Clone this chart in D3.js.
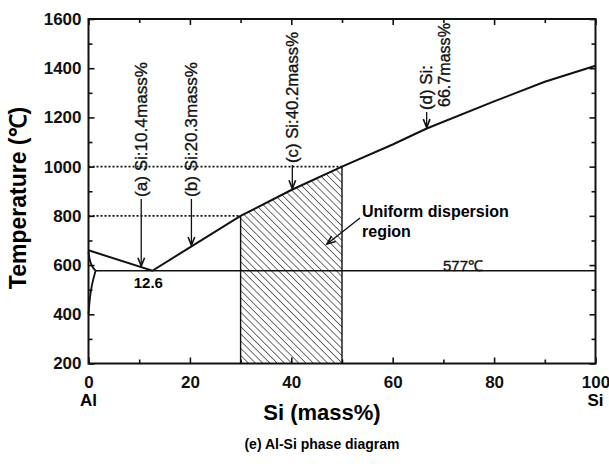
<!DOCTYPE html>
<html><head><meta charset="utf-8">
<script src="https://cdn.jsdelivr.net/npm/d3@7"></script>
<style>
body{margin:0;background:#fff;}
svg{display:block;font-family:"Liberation Sans",Arial,Helvetica,sans-serif;}
</style></head>
<body><svg id="c" width="609" height="466"></svg>
<script>
// ---- data ----
const xTicksMajor = [0, 20, 40, 60, 80, 100];
const xTicksMinor = [10, 30, 50, 70, 90];
const yTicksMajor = [200, 400, 600, 800, 1000, 1200, 1400, 1600];
const yTicksMinor = [300, 500, 700, 900, 1100, 1300, 1500];
const liquidusSi = [0, 12.6, 20, 30, 40, 50, 60, 66.7, 80, 90, 100];
const liquidusT  = [660, 577, 672, 800, 905, 1000, 1090, 1155, 1265, 1345, 1410];
const solidusSi = [0, 0.25, 0.8, 1.4];
const solidusT  = [655, 615, 590, 577];
const solvusSi = [1.4, 0.9, 0.45, 0.15, 0];
const solvusT  = [577, 540, 498, 440, 400];
const eutecticT = 577;
const eutecticSi = 12.6;
const regionSi = [30, 50];
const dottedT = [800, 1000];
const dottedSiEnd = [30, 50];
const arrowSi = [10.4, 20.3, 40.2, 66.7];
const arrowLabels = [["(a) Si:10.4mass%"], ["(b) Si:20.3mass%"], ["(c) Si:40.2mass%"], ["(d) Si:", "66.7mass%"]];

// ---- layout ----
const svg = d3.select("#c");
const L = 88.5, R = 595.5, T = 19, B = 363.5;
const x = d3.scaleLinear().domain([0, 100]).range([L, R]);
const y = d3.scaleLinear().domain([200, 1600]).range([B, T]);
const interpT = si => {
  for (let i = 0; i < liquidusSi.length - 1; i++) {
    if (si >= liquidusSi[i] && si <= liquidusSi[i + 1]) {
      const f = (si - liquidusSi[i]) / (liquidusSi[i + 1] - liquidusSi[i]);
      return liquidusT[i] + f * (liquidusT[i + 1] - liquidusT[i]);
    }
  }
  return liquidusT[liquidusT.length - 1];
};

// hatch pattern
const defs = svg.append("defs");
const pat = defs.append("pattern").attr("id", "hatch").attr("patternUnits", "userSpaceOnUse")
  .attr("width", 5.1).attr("height", 10).attr("patternTransform", "rotate(-45)");
pat.append("line").attr("x1", 0).attr("y1", 0).attr("x2", 0).attr("y2", 10)
  .attr("stroke", "#222").attr("stroke-width", 1.3);

// hatched region
const regPts = [[regionSi[0], 200]];
regPts.push([regionSi[0], interpT(regionSi[0])]);
liquidusSi.forEach((s, i) => { if (s > regionSi[0] && s < regionSi[1]) regPts.push([s, liquidusT[i]]); });
regPts.push([regionSi[1], interpT(regionSi[1])]);
regPts.push([regionSi[1], 200]);
svg.append("path").attr("d", d3.line().x(d => x(d[0])).y(d => y(d[1]))(regPts) + "Z")
  .attr("fill", "url(#hatch)").attr("stroke", "none");
regionSi.forEach(s => svg.append("line").attr("x1", x(s)).attr("x2", x(s)).attr("y1", y(200)).attr("y2", y(interpT(s)))
  .attr("stroke", "#111").attr("stroke-width", 1.4));

// dotted lines
dottedT.forEach((t, i) => svg.append("line").attr("x1", x(0)).attr("x2", x(dottedSiEnd[i])).attr("y1", y(t)).attr("y2", y(t))
  .attr("stroke", "#111").attr("stroke-width", 1.6).attr("stroke-dasharray", "2,2"));

// eutectic line
svg.append("line").attr("x1", x(solidusSi[solidusSi.length - 1])).attr("x2", x(100)).attr("y1", y(eutecticT)).attr("y2", y(eutecticT))
  .attr("stroke", "#111").attr("stroke-width", 1.6);

// curves
const ln = d3.line().x(d => x(d[0])).y(d => y(d[1]));
svg.append("path").attr("d", ln(liquidusSi.map((s, i) => [s, liquidusT[i]])))
  .attr("fill", "none").attr("stroke", "#111").attr("stroke-width", 2);
svg.append("path").attr("d", d3.line().x(d => x(d[0])).y(d => y(d[1])).curve(d3.curveBasis)(solidusSi.map((s, i) => [s, solidusT[i]])))
  .attr("fill", "none").attr("stroke", "#111").attr("stroke-width", 1.8);
svg.append("path").attr("d", d3.line().x(d => x(d[0])).y(d => y(d[1])).curve(d3.curveBasis)(solvusSi.map((s, i) => [s, solvusT[i]])))
  .attr("fill", "none").attr("stroke", "#111").attr("stroke-width", 1.8);

// axes (inward ticks on all sides)
function axisGroup(gen, tx, ty) { return svg.append("g").attr("transform", `translate(${tx},${ty})`).call(gen); }
const styleAxis = g => { g.select(".domain").remove(); g.selectAll("line").attr("stroke", "#111").attr("stroke-width", 1.6); };
axisGroup(d3.axisBottom(x).tickValues(xTicksMinor).tickSize(-4).tickFormat(""), 0, B).call(styleAxis);
axisGroup(d3.axisTop(x).tickValues(xTicksMinor).tickSize(-4).tickFormat(""), 0, T).call(styleAxis);
axisGroup(d3.axisTop(x).tickValues(xTicksMajor).tickSize(-6).tickFormat(""), 0, T).call(styleAxis);
axisGroup(d3.axisLeft(y).tickValues(yTicksMinor).tickSize(-4).tickFormat(""), L, 0).call(styleAxis);
axisGroup(d3.axisRight(y).tickValues(yTicksMinor).tickSize(-4).tickFormat(""), R, 0).call(styleAxis);
axisGroup(d3.axisRight(y).tickValues(yTicksMajor).tickSize(-6).tickFormat(""), R, 0).call(styleAxis);
const xb = axisGroup(d3.axisBottom(x).tickValues(xTicksMajor).tickSize(-6).tickPadding(12).tickFormat(d3.format("d")), 0, B).call(styleAxis);
xb.selectAll("text").attr("font-size", 17).attr("font-weight", "bold").attr("fill", "#111").attr("font-family", "Liberation Sans, Arial, sans-serif");
const yl = axisGroup(d3.axisLeft(y).tickValues(yTicksMajor).tickSize(-6).tickPadding(7).tickFormat(d3.format("d")), L, 0).call(styleAxis);
yl.selectAll("text").attr("font-size", 17).attr("font-weight", "bold").attr("fill", "#111").attr("font-family", "Liberation Sans, Arial, sans-serif");

// frame
svg.append("rect").attr("x", L).attr("y", T).attr("width", R - L).attr("height", B - T)
  .attr("fill", "none").attr("stroke", "#111").attr("stroke-width", 2);

// element labels
svg.append("text").attr("x", x(0)).attr("y", 406).attr("text-anchor", "middle").attr("font-size", 17).attr("font-weight", "bold").text("Al");
svg.append("text").attr("x", x(100)).attr("y", 406).attr("text-anchor", "middle").attr("font-size", 17).attr("font-weight", "bold").text("Si");

// axis titles
svg.append("text").attr("x", (L + R) / 2 - 20).attr("y", 420).attr("text-anchor", "middle").attr("font-size", 22).attr("font-weight", "bold").text("Si (mass%)");
svg.append("text").attr("transform", "translate(26,198) rotate(-90)").attr("text-anchor", "middle").attr("font-size", 23).attr("font-weight", "bold").text("Temperature (℃)");
svg.append("text").attr("x", (L + R) / 2 - 20).attr("y", 449).attr("text-anchor", "middle").attr("font-size", 14).attr("font-weight", "bold").text("(e) Al-Si phase diagram");

// annotations
const heavy = s => s.attr("stroke", "#111").attr("stroke-width", 0.35).attr("fill", "#111");
svg.append("text").attr("x", x(eutecticSi) - 4).attr("y", 288).attr("text-anchor", "middle").attr("font-size", 15).attr("font-weight", "bold").text("12.6");
svg.append("text").attr("x", 443).attr("y", 271).attr("font-size", 15).text("577℃").call(heavy);

// vertical arrows with rotated labels
const textBottomY = [197, 197, 163, 110];
const textLens = [[135], [135], [131], [45, 84]];
const arrowHead = (tx, ty, ang) => {
  const len = 9, spread = 0.38;
  const a1 = ang + Math.PI - spread, a2 = ang + Math.PI + spread;
  return `M${tx + len * Math.cos(a1)},${ty + len * Math.sin(a1)}L${tx},${ty}L${tx + len * Math.cos(a2)},${ty + len * Math.sin(a2)}`;
};
arrowSi.forEach((s, i) => {
  const ax = x(s), tipY = y(interpT(s)) - 1;
  svg.append("line").attr("x1", ax).attr("x2", ax).attr("y1", textBottomY[i] + 2).attr("y2", tipY)
    .attr("stroke", "#111").attr("stroke-width", 1.3);
  svg.append("path").attr("d", arrowHead(ax, tipY, Math.PI / 2)).attr("fill", "none").attr("stroke", "#111").attr("stroke-width", 1.6);
  const lines = arrowLabels[i];
  lines.forEach((t, j) => {
    const tx = ax + 5.5 + j * 18, ty = textBottomY[i] - (j ? 3 : 0);
    const el = svg.append("text").attr("font-size", 17).text(t).call(heavy);
    const w = el.node().getComputedTextLength() || textLens[i][j];
    const sx = textLens[i][j] / w;
    el.attr("transform", `translate(${tx},${ty}) rotate(-90) scale(${sx},1)`);
  });
});

// Uniform dispersion region
svg.append("text").attr("x", 362).attr("y", 217).attr("font-size", 16).attr("font-weight", "bold").text("Uniform dispersion");
svg.append("text").attr("x", 362).attr("y", 237).attr("font-size", 16).attr("font-weight", "bold").text("region");
const ux1 = 360, uy1 = 218, ux2 = 327, uy2 = 244;
svg.append("line").attr("x1", ux1).attr("y1", uy1).attr("x2", ux2).attr("y2", uy2).attr("stroke", "#111").attr("stroke-width", 1.4);
svg.append("path").attr("d", arrowHead(ux2, uy2, Math.atan2(uy2 - uy1, ux2 - ux1))).attr("fill", "none").attr("stroke", "#111").attr("stroke-width", 1.6);
</script></body></html>
